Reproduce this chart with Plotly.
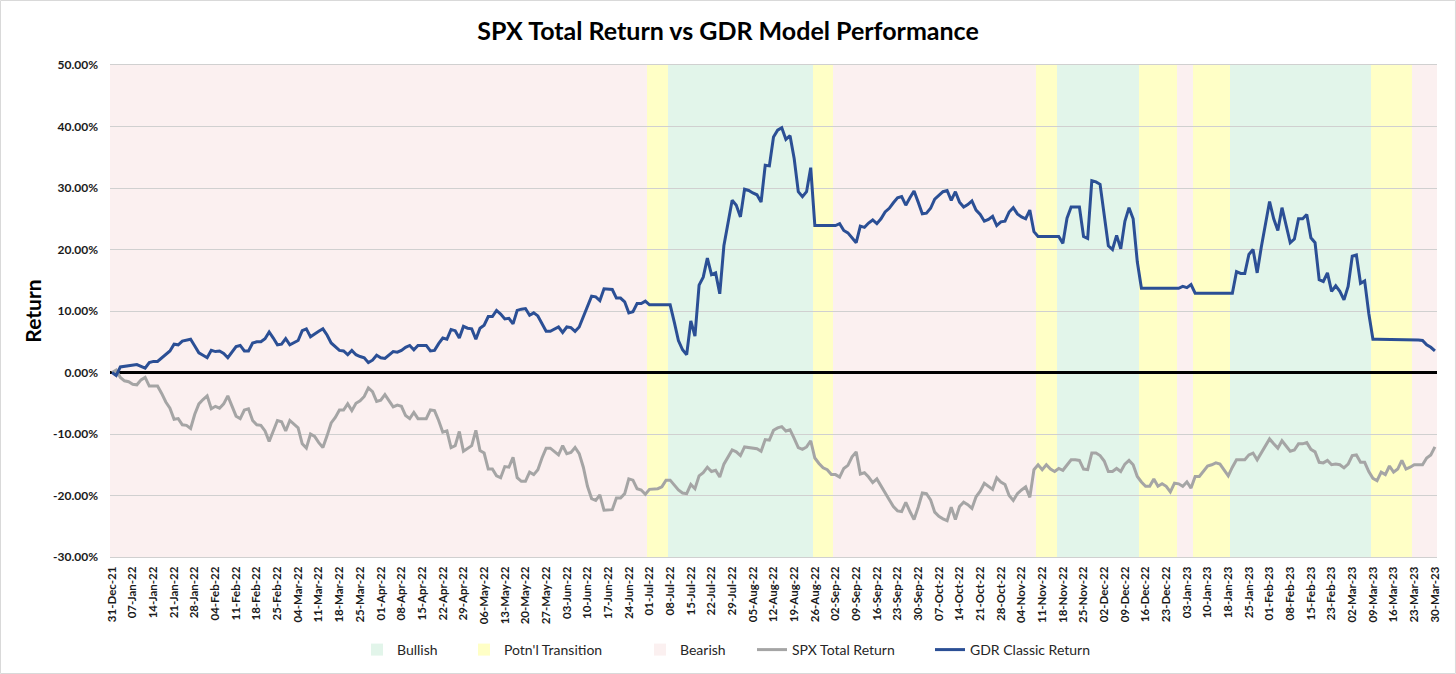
import plotly.graph_objects as go

# ---------------- data ----------------
tick_labels = ['31-Dec-21', '07-Jan-22', '14-Jan-22', '21-Jan-22', '28-Jan-22', '04-Feb-22', '11-Feb-22',
               '18-Feb-22', '25-Feb-22', '04-Mar-22', '11-Mar-22', '18-Mar-22', '25-Mar-22', '01-Apr-22',
               '08-Apr-22', '15-Apr-22', '22-Apr-22', '29-Apr-22', '06-May-22', '13-May-22', '20-May-22',
               '27-May-22', '03-Jun-22', '10-Jun-22', '17-Jun-22', '24-Jun-22', '01-Jul-22', '08-Jul-22',
               '15-Jul-22', '22-Jul-22', '29-Jul-22', '05-Aug-22', '12-Aug-22', '19-Aug-22', '26-Aug-22',
               '02-Sep-22', '09-Sep-22', '16-Sep-22', '23-Sep-22', '30-Sep-22', '07-Oct-22', '14-Oct-22',
               '21-Oct-22', '28-Oct-22', '04-Nov-22', '11-Nov-22', '18-Nov-22', '25-Nov-22', '02-Dec-22',
               '09-Dec-22', '16-Dec-22', '23-Dec-22', '03-Jan-23', '10-Jan-23', '18-Jan-23', '25-Jan-23',
               '01-Feb-23', '08-Feb-23', '15-Feb-23', '23-Feb-23', '02-Mar-23', '09-Mar-23', '16-Mar-23',
               '23-Mar-23', '30-Mar-23']

# GDR Classic Return (%), one value per trading day
gdr_return = [
    0.0, -0.5, 0.9, 1.0, 1.1, 1.2, 1.3, 1.0, 0.7, 1.6,
    1.8, 1.8, 2.4, 2.9, 3.5, 4.6, 4.5, 5.1, 5.2, 5.4,
    4.3, 3.2, 2.8, 2.4, 3.6, 3.4, 3.5, 3.1, 2.4, 3.3,
    4.2, 4.4, 3.5, 3.5, 4.8, 5.0, 5.0, 5.5, 6.6, 5.6,
    4.5, 4.6, 5.5, 4.5, 4.8, 5.2, 6.8, 7.1, 5.8, 6.3,
    6.7, 7.1, 6.1, 4.8, 4.2, 3.6, 3.5, 2.9, 3.6, 2.9,
    2.6, 2.4, 1.6, 2.0, 2.8, 2.4, 2.3, 2.9, 3.4, 3.3,
    3.6, 4.1, 4.4, 3.7, 4.4, 4.4, 4.4, 3.5, 3.6, 4.7,
    5.6, 5.4, 7.0, 6.8, 5.6, 7.5, 7.2, 7.1, 5.4, 7.2,
    7.7, 9.1, 9.1, 10.1, 9.5, 8.7, 8.8, 7.9, 10.1, 10.3,
    10.4, 9.3, 9.7, 9.2, 7.9, 6.7, 6.7, 7.1, 7.4, 6.5,
    7.4, 7.3, 6.7, 7.4, 9.0, 10.8, 12.4, 12.3, 11.7, 13.6,
    13.5, 13.5, 12.1, 12.1, 11.5, 9.7, 9.9, 11.2, 11.2, 11.6,
    11.0, 11.0, 11.0, 11.0, 11.0, 11.0, 8.2, 5.2, 3.7, 2.9,
    8.4, 5.9, 14.2, 15.5, 18.6, 15.9, 16.2, 12.8, 20.6, 24.2,
    28.0, 27.2, 25.3, 29.8, 29.6, 29.2, 28.9, 27.7, 33.7, 33.6,
    38.3, 39.4, 39.8, 37.9, 38.5, 34.8, 29.4, 28.6, 29.4, 33.3,
    23.9, 23.9, 23.9, 23.9, 23.9, 23.9, 24.2, 23.1, 22.7, 21.9,
    21.1, 23.8, 23.6, 24.3, 24.8, 24.2, 25.0, 26.1, 26.7, 27.6,
    28.4, 28.6, 27.2, 28.4, 29.5, 27.7, 25.8, 25.9, 26.7, 28.2,
    28.8, 29.4, 29.6, 28.0, 29.4, 27.7, 26.9, 27.3, 27.9, 26.4,
    25.7, 24.6, 24.9, 25.4, 23.9, 24.5, 24.6, 26.1, 26.8, 25.8,
    25.3, 25.0, 26.4, 22.9, 22.1, 22.1, 22.1, 22.1, 22.1, 22.1,
    21.0, 25.1, 26.9, 26.9, 26.9, 22.1, 21.8, 31.2, 31.0, 30.6,
    25.6, 20.6, 20.0, 22.3, 20.1, 24.6, 26.8, 25.0, 18.0, 13.7,
    13.7, 13.7, 13.7, 13.7, 13.7, 13.7, 13.7, 13.7, 13.7, 14.0,
    13.8, 14.3, 12.9, 12.9, 12.9, 12.9, 12.9, 12.9, 12.9, 12.9,
    12.9, 12.9, 16.4, 16.1, 16.1, 19.2, 20.0, 16.2, 20.4, 23.9,
    27.8, 25.0, 23.1, 26.8, 23.9, 21.1, 21.7, 25.0, 25.0, 25.7,
    21.9, 21.1, 15.1, 14.8, 16.2, 13.2, 14.1, 13.2, 11.8, 14.0,
    18.9, 19.1, 14.5, 14.9, 9.6, 5.4, 5.4, 5.4, 5.4, 5.4,
    5.4, 5.4, 5.4, 5.4, 5.4, 5.4, 5.3, 5.2, 4.5, 4.1,
    3.5]

# SPX Total Return (%), one value per trading day
spx_return = [
    0.0, 0.4, -0.8, -1.35, -1.5, -1.9, -2.0, -1.2, -0.8, -2.2,
    -2.2, -2.2, -3.4, -4.8, -5.8, -7.6, -7.5, -8.5, -8.6, -9.1,
    -6.8, -5.1, -4.4, -3.8, -5.9, -5.5, -5.8, -5.1, -3.8, -5.4,
    -7.1, -7.5, -6.1, -5.9, -7.8, -8.5, -8.6, -9.5, -11.2, -9.5,
    -7.8, -8.0, -9.5, -7.8, -8.4, -9.0, -11.6, -12.3, -10.0, -10.4,
    -11.4, -12.2, -10.3, -8.2, -7.3, -6.1, -6.1, -5.1, -6.2, -5.0,
    -4.6, -3.9, -2.5, -3.1, -4.7, -4.5, -3.6, -4.6, -5.6, -5.3,
    -5.5, -7.0, -7.5, -6.5, -7.5, -7.5, -7.5, -6.1, -6.2, -7.8,
    -9.7, -9.5, -12.2, -11.9, -9.6, -12.8, -12.3, -11.9, -9.4, -12.7,
    -13.1, -15.7, -15.7, -16.8, -17.1, -15.3, -15.4, -13.8, -17.1, -17.7,
    -17.7, -16.2, -16.6, -15.8, -13.9, -12.3, -12.3, -12.8, -13.4, -11.9,
    -13.2, -13.0, -12.2, -13.2, -15.4, -18.5, -20.5, -20.8, -19.9, -22.4,
    -22.4, -22.3, -20.4, -20.4, -19.7, -17.3, -17.5, -18.9, -19.1, -19.8,
    -19.0, -19.0, -18.9, -18.6, -17.5, -17.5, -18.4, -19.1, -19.6, -19.7,
    -18.2, -18.9, -16.8, -16.3, -15.4, -16.1, -15.9, -17.0, -14.9, -13.7,
    -12.6, -12.9, -13.5, -12.1, -12.2, -12.3, -12.4, -12.8, -10.9, -11.0,
    -9.4, -9.0, -8.8, -9.5, -9.3, -10.7, -12.2, -12.5, -12.1, -11.1,
    -13.9, -14.8, -15.5, -15.8, -16.6, -16.6, -17.0, -15.6, -15.1, -13.7,
    -12.9, -16.5, -16.3, -17.0, -17.9, -17.3, -18.5, -19.6, -20.7, -21.8,
    -22.5, -22.6, -21.1, -22.6, -23.9, -21.9, -19.6, -19.7, -20.7, -22.7,
    -23.4, -23.8, -24.1, -21.9, -23.9, -21.8, -21.1, -21.5, -22.1, -20.2,
    -19.3, -18.0, -18.5, -19.0, -17.1, -17.8, -18.2, -20.0, -20.8, -19.7,
    -19.1, -18.6, -20.3, -15.8, -15.0, -15.8, -15.0, -15.7, -16.1, -15.6,
    -15.9, -15.0, -14.2, -14.2, -14.3, -15.7, -15.8, -13.1, -13.1, -13.5,
    -14.4, -16.1, -16.1, -15.6, -16.1, -14.9, -14.3, -15.0, -16.9, -17.8,
    -18.5, -18.5, -17.3, -18.5, -18.1, -18.5, -19.4, -18.0, -18.1, -18.5,
    -17.8, -18.8, -16.9, -16.9, -16.1, -15.2, -15.0, -14.7, -14.9, -15.9,
    -16.8, -15.4, -14.2, -14.2, -14.2, -13.4, -13.1, -14.2, -13.0, -11.9,
    -10.8, -11.6, -12.3, -11.1, -12.0, -12.8, -12.6, -11.6, -11.6, -11.4,
    -12.5, -12.9, -14.6, -14.7, -14.3, -15.0, -14.9, -15.0, -15.5, -14.9,
    -13.5, -13.4, -14.6, -14.6, -16.1, -17.2, -17.6, -16.2, -16.6, -15.2,
    -16.2, -15.7, -14.3, -15.7, -15.4, -15.0, -15.0, -15.0, -13.9, -13.4,
    -12.1]

# market regime runs (consecutive trading days)
regime_names = ['Bearish', "Potn'l Transition", 'Bullish', "Potn'l Transition", 'Bearish',
                "Potn'l Transition", 'Bullish', "Potn'l Transition", 'Bearish', "Potn'l Transition",
                'Bullish', "Potn'l Transition", 'Bearish']
regime_lengths = [130, 5, 35, 5, 49, 5, 20, 9, 4, 9, 34, 10, 6]

y_tick_vals = [-30, -20, -10, 0, 10, 20, 30, 40, 50]
y_tick_text = ['-30.00%', '-20.00%', '-10.00%', '0.00%', '10.00%', '20.00%', '30.00%', '40.00%', '50.00%']

# ---------------- figure ----------------
FONT = 'Lato'
W, H = 1456, 674
n = len(gdr_return)
idx = list(range(n))

regime_per_day = []
for name, length in zip(regime_names, regime_lengths):
    regime_per_day += [name] * length

band_colors = {'Bullish': '#E2F5EA', "Potn'l Transition": '#FFFFC6', 'Bearish': '#FBF0F0'}
band_order = ['Bullish', "Potn'l Transition", 'Bearish']

fig = go.Figure()
for k, name in enumerate(band_order):
    xs = [i for i in idx if regime_per_day[i] == name]
    fig.add_trace(go.Bar(
        x=xs, y=[1] * len(xs), width=1, name=name, showlegend=True,
        marker=dict(color=band_colors[name], line=dict(width=0)),
        xaxis='x', yaxis='y', hoverinfo='skip',
        legend='legend' if k == 0 else 'legend%d' % (k + 1)))

fig.add_trace(go.Scatter(x=idx, y=spx_return, mode='lines', name='SPX Total Return',
                         line=dict(color='#A5A5A5', width=3), xaxis='x2', yaxis='y2',
                         showlegend=True, legend='legend4'))
fig.add_trace(go.Scatter(x=idx, y=gdr_return, mode='lines', name='GDR Classic Return',
                         line=dict(color='#2B4F95', width=3), xaxis='x2', yaxis='y2',
                         showlegend=True, legend='legend5'))

# legend entry origins (px from left) so that each entry sits like the original
legend_x_px = [357, 464, 640, 752, 930]
legend_y = 1 - 650 / H
legend_font = dict(family=FONT, size=14, color='#262626')
legends = {}
for k, xp in enumerate(legend_x_px):
    key = 'legend' if k == 0 else 'legend%d' % (k + 1)
    legends[key] = dict(orientation='h', xref='container', yref='container',
                        x=xp / W, xanchor='left', y=legend_y, yanchor='middle',
                        font=legend_font, bgcolor='rgba(0,0,0,0)', borderwidth=0,
                        visible=True)

xr = [-0.5, n - 0.5]
fig.update_layout(
    width=W, height=H, showlegend=True,
    margin=dict(l=110, r=19, t=65, b=117, autoexpand=False),
    paper_bgcolor='white', plot_bgcolor='rgba(0,0,0,0)',
    barmode='overlay', bargap=0, hovermode=False,
    font=dict(family=FONT, color='#1a1a1a'),
    title=dict(text='SPX Total Return vs GDR Model Performance', x=0.5, xref='container',
               xanchor='center', y=1 - 31 / H, yanchor='middle',
               font=dict(family=FONT, size=25, color='#000000', weight='bold')),
    xaxis=dict(domain=[0, 1], range=xr, visible=False),
    yaxis=dict(domain=[0, 1], range=[0, 1], visible=False),
    xaxis2=dict(domain=[0, 1], anchor='y2', range=xr, tickmode='array',
                tickvals=idx[::5], ticktext=tick_labels, tickangle=-90,
                tickfont=dict(family=FONT, size=11.5, color='#1a1a1a', weight='bold'),
                showgrid=False, zeroline=False, showline=True, mirror=True,
                linecolor='#D0D0D0', linewidth=1, ticks='', ticklabelstandoff=4,
                automargin=False),
    yaxis2=dict(domain=[0, 1], anchor='x2', range=[-30, 50], tickmode='array',
                tickvals=y_tick_vals, ticktext=y_tick_text,
                tickfont=dict(family=FONT, size=12, color='#1a1a1a', weight='bold'),
                showgrid=True, gridcolor='#D0D0D0', gridwidth=1,
                zeroline=True, zerolinecolor='#000000', zerolinewidth=2.5,
                showline=False, ticks='', ticklabelstandoff=11, automargin=False,
                title=dict(text='Return', standoff=5,
                           font=dict(family=FONT, size=21, color='#000000', weight='bold'))),
    shapes=[dict(type='rect', xref='paper', yref='paper',
                 x0=-0.0825, x1=1.0139, y0=-0.2368, y1=1.1311,
                 line=dict(color='#D9D9D9', width=1), fillcolor='rgba(0,0,0,0)')],
    **legends,
)

fig.write_html("out.html", config={'displayModeBar': False},
               post_script="document.body.style.margin='0';")
